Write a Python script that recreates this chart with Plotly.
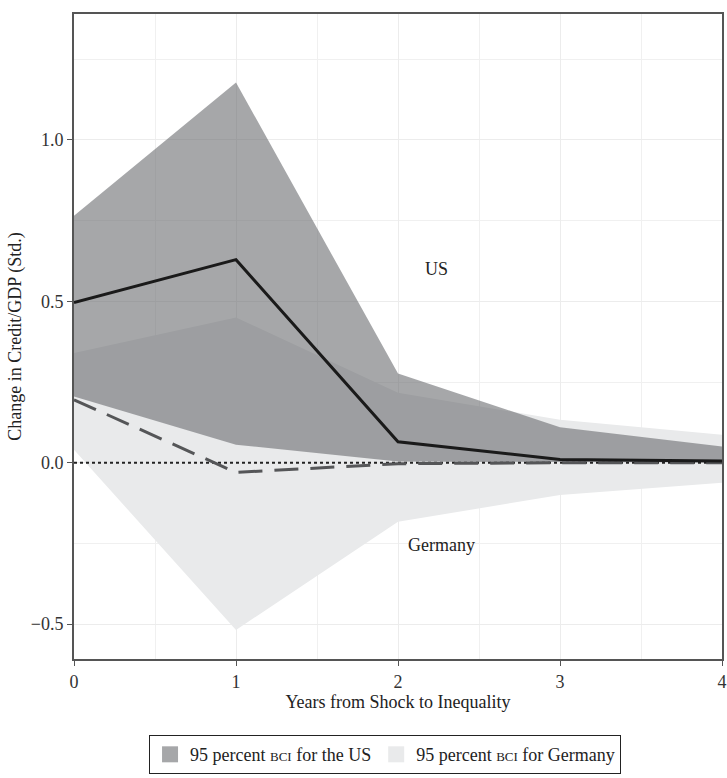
import plotly.graph_objects as go

years = [0, 1, 2, 3, 4]
us_mean = [0.496, 0.629, 0.065, 0.01, 0.005]
us_upper = [0.765, 1.178, 0.276, 0.11, 0.05]
us_lower = [0.205, 0.056, 0.004, 0.002, 0.001]
de_mean = [0.195, -0.03, -0.003, 0.0, 0.0]
de_upper = [0.34, 0.45, 0.217, 0.133, 0.087]
de_lower = [0.04, -0.518, -0.183, -0.10, -0.062]

FONT = "Liberation Serif"
FS = 18
sc = "<span style='font-size:13px'>BCI</span>"
US_FILL = "rgba(104,105,108,0.59)"
DE_FILL = "rgb(233,234,235)"

fig = go.Figure()

fig.add_trace(go.Scatter(
    x=years + years[::-1], y=de_upper + de_lower[::-1],
    fill="toself", fillcolor=DE_FILL, line=dict(width=0),
    mode="lines", showlegend=False, hoverinfo="skip"))
fig.add_trace(go.Scatter(
    x=years + years[::-1], y=us_upper + us_lower[::-1],
    fill="toself", fillcolor=US_FILL, line=dict(width=0),
    mode="lines", showlegend=False, hoverinfo="skip"))
fig.add_trace(go.Scatter(
    x=[years[0], years[-1]], y=[0, 0], mode="lines",
    line=dict(color="#222", width=2, dash="dot"), showlegend=False))
fig.add_trace(go.Scatter(
    x=years, y=de_mean, mode="lines",
    line=dict(color="#555658", width=3, dash="24px,12px"), showlegend=False))
fig.add_trace(go.Scatter(
    x=years, y=us_mean, mode="lines",
    line=dict(color="#1a1a1a", width=3), showlegend=False))

# legend entries (square swatches)
fig.add_trace(go.Scatter(
    x=[None], y=[None], mode="markers",
    marker=dict(symbol="square", size=16, color="rgb(166,167,169)"),
    name=f"95 percent {sc} for the US"))
fig.add_trace(go.Scatter(
    x=[None], y=[None], mode="markers",
    marker=dict(symbol="square", size=16, color=DE_FILL),
    name=f"95 percent {sc} for Germany"))

fig.add_annotation(x=2.24, y=0.6, text="US", showarrow=False,
                   font=dict(family=FONT, size=FS, color="#222"))
fig.add_annotation(x=2.27, y=-0.254, text="Germany", showarrow=False,
                   font=dict(family=FONT, size=FS, color="#222"))

axis_common = dict(
    showline=True, linecolor="#555", linewidth=2, mirror=True,
    ticks="outside", ticklen=5, tickcolor="#555", tickwidth=1,
    showgrid=True, gridcolor="#ececec", gridwidth=1, zeroline=False,
    tickfont=dict(family=FONT, size=FS, color="#333"),
    ticklabeloverflow="allow",
)

fig.update_xaxes(range=[0, 4], tickvals=[0, 1, 2, 3, 4],
                 minor=dict(showgrid=True, gridcolor="#f0f0f0", dtick=0.5, tick0=0),
                 title=dict(text="Years from Shock to Inequality", standoff=2,
                            font=dict(family=FONT, size=FS, color="#222")),
                 **axis_common)
fig.update_yaxes(range=[-0.608, 1.39], tickvals=[-0.5, 0, 0.5, 1.0], tickformat=".1f",
                 minor=dict(showgrid=True, gridcolor="#f0f0f0", dtick=0.25, tick0=0),
                 title=dict(text="Change in Credit/GDP (Std.)", standoff=4,
                            font=dict(family=FONT, size=FS, color="#222")),
                 **axis_common)

fig.update_layout(
    width=727, height=778,
    margin=dict(l=74, r=0, t=14, b=119),
    plot_bgcolor="white", paper_bgcolor="white",
    font=dict(family=FONT, size=FS, color="#222"),
    legend=dict(orientation="h", x=0.48, xanchor="center", y=-0.118, yanchor="top",
                bordercolor="#222", borderwidth=1, itemwidth=30,
                font=dict(family=FONT, size=FS, color="#222")),
)

fig.write_html("out.html")
